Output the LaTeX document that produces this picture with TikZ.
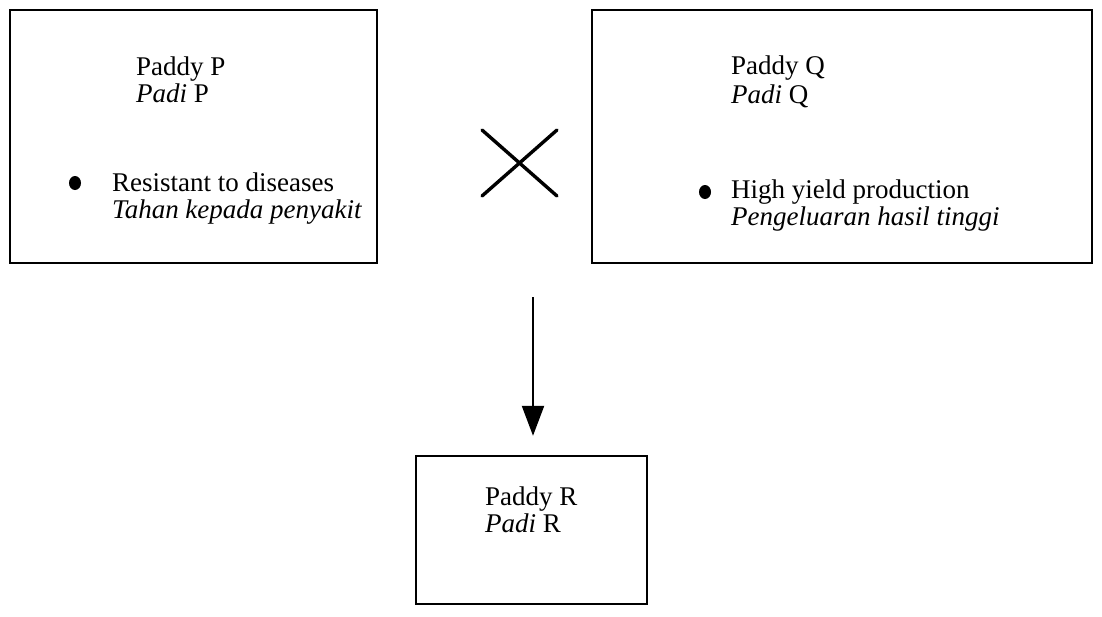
\documentclass[tikz,border=0pt]{standalone}
\usepackage{fontspec}
\setmainfont{Liberation Serif}
\usetikzlibrary{arrows.meta,shapes.geometric}
\begin{document}
\begin{tikzpicture}[x=1pt,y=-1pt,
  box/.style={draw=black,line width=2.4pt,minimum width=#1,inner sep=0pt},
  txt/.style={inner sep=0pt,anchor=base west,font=\fontsize{27}{28}\selectfont},
  dot/.style={ellipse,fill=black,inner sep=0pt,minimum width=12pt,minimum height=14pt},
  cross/.style={line width=3.4pt,line cap=round},
  flow/.style={line width=2.2pt,-{Triangle[length=30pt,width=22pt]}}]
\useasboundingbox (0,0) rectangle (1102,616);

% parent varieties
\node[box=367pt,minimum height=253pt] (P) at (193.5,136.5) {};
\node[box=500pt,minimum height=253pt] (Q) at (842,136.5) {};
% offspring
\node[box=231pt,minimum height=148pt] (R) at (531.5,530) {};

% text of paddy P
\node[txt] (p1) at (136,75) {Paddy P};
\node[txt] (p2) at (136,102) {\textit{Padi} P};
\node[dot] (pb) at (75,183) {};
\node[txt] (p3) at (112,191) {Resistant to diseases};
\node[txt] (p4) at (112,218) {\textit{Tahan kepada penyakit}};

% text of paddy Q
\node[txt] (q1) at (731,74) {Paddy Q};
\node[txt] (q2) at (731,103) {\textit{Padi} Q};
\node[dot] (qb) at (705,192) {};
\node[txt] (q3) at (731,198) {High yield production};
\node[txt] (q4) at (731,225) {\textit{Pengeluaran hasil tinggi}};

% text of paddy R
\node[txt] (r1) at (485,505) {Paddy R};
\node[txt] (r2) at (485,532) {\textit{Padi} R};

% cross symbol
\coordinate (x1) at (482,130);
\coordinate (x2) at (557,196);
\coordinate (x3) at (557,130);
\coordinate (x4) at (482,196);
\draw[cross] (x1) -- (x2);
\draw[cross] (x3) -- (x4);

% result arrow
\coordinate (a0) at (533,297);
\draw[flow,shorten >=19pt] (a0) -- (a0 |- R.north);
\end{tikzpicture}
\end{document}
